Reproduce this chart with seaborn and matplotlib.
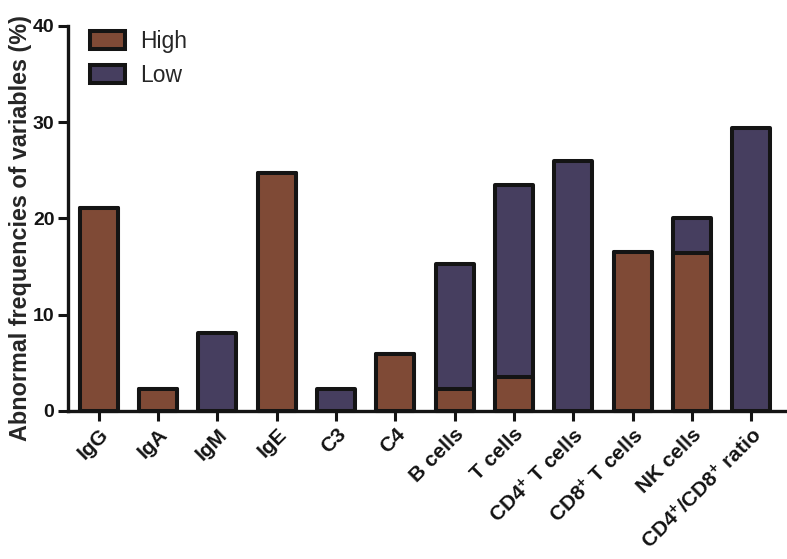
import matplotlib
matplotlib.use("Agg")
import matplotlib.pyplot as plt
from matplotlib.patches import Patch
import seaborn as sns
import pandas as pd

categories = ["IgG", "IgA", "IgM", "IgE", "C3", "C4", "B cells", "T cells",
              "CD4$^{\\mathbf{+}}$ T cells", "CD8$^{\\mathbf{+}}$ T cells", "NK cells",
              "CD4$^{\\mathbf{+}}$/CD8$^{\\mathbf{+}}$ ratio"]
high = [21.1, 2.3, 0.0, 24.7, 0.0, 5.9, 2.3, 3.5, 0.0, 16.5, 16.4, 0.0]
low = [0.0, 0.0, 8.1, 0.0, 2.3, 0.0, 13.0, 20.0, 25.9, 0.0, 3.6, 29.4]
yticks = [0, 10, 20, 30, 40]

HIGH_C = "#7f4a36"
LOW_C = "#463e5f"
EDGE = "#141414"

sns.set_theme(style="ticks")
plt.rcParams["font.family"] = ["Liberation Sans", "DejaVu Sans"]
plt.rcParams["mathtext.fontset"] = "custom"
plt.rcParams["mathtext.rm"] = "Liberation Sans:bold"
plt.rcParams["mathtext.bf"] = "Liberation Sans:bold"
plt.rcParams["mathtext.it"] = "Liberation Sans:bold"

df = pd.DataFrame({"cat": categories, "high": high, "low": low})
df["total"] = df["high"] + df["low"]

fig = plt.figure(figsize=(7.87, 5.59), dpi=100)
ax = fig.add_axes([0.0868, 0.265, 0.9132, 0.689])

lw = 2.9
sns.barplot(data=df, x="cat", y="total", order=categories, color=LOW_C,
            saturation=1, width=0.64, edgecolor=EDGE, linewidth=lw, ax=ax,
            errorbar=None)
sns.barplot(data=df, x="cat", y="high", order=categories, color=HIGH_C,
            saturation=1, width=0.64, edgecolor=EDGE, linewidth=lw, ax=ax,
            errorbar=None)
for p in ax.patches:
    if p.get_height() <= 0:
        p.set_visible(False)
    p.set_joinstyle("round")
    p.set_clip_on(False)

ax.set_xlim(-0.51, 11.6)
ax.set_ylim(0, 40)
ax.set_yticks(yticks)
ax.set_yticklabels([str(v) for v in yticks], fontsize=14, fontweight="bold")
ax.set_xticks(range(len(categories)))
ax.set_xticklabels(categories, rotation=45, ha="right", rotation_mode="anchor",
                   fontsize=15, fontweight="bold")
ax.set_xlabel("")
ax.set_ylabel("Abnormal frequencies of variables (%)", fontsize=16.8,
              fontweight="bold")
ax.yaxis.set_label_coords(-0.05, 0.475)

for s in ["top", "right"]:
    ax.spines[s].set_visible(False)
for s in ["left", "bottom"]:
    ax.spines[s].set_linewidth(2.4)
    ax.spines[s].set_color(EDGE)
ax.tick_params(axis="both", direction="out", length=7, width=2.2, color=EDGE,
               labelcolor=EDGE, pad=3)

handles = [Patch(facecolor=HIGH_C, edgecolor=EDGE, linewidth=lw, label="High"),
           Patch(facecolor=LOW_C, edgecolor=EDGE, linewidth=lw, label="Low")]
ax.legend(handles=handles, loc="upper left", bbox_to_anchor=(0.03, 0.99),
          frameon=False, fontsize=16.5, handlelength=1.53, handleheight=0.83,
          labelspacing=0.48, handletextpad=0.65, borderpad=0, borderaxespad=0)

fig.savefig("out.png", dpi=100)
